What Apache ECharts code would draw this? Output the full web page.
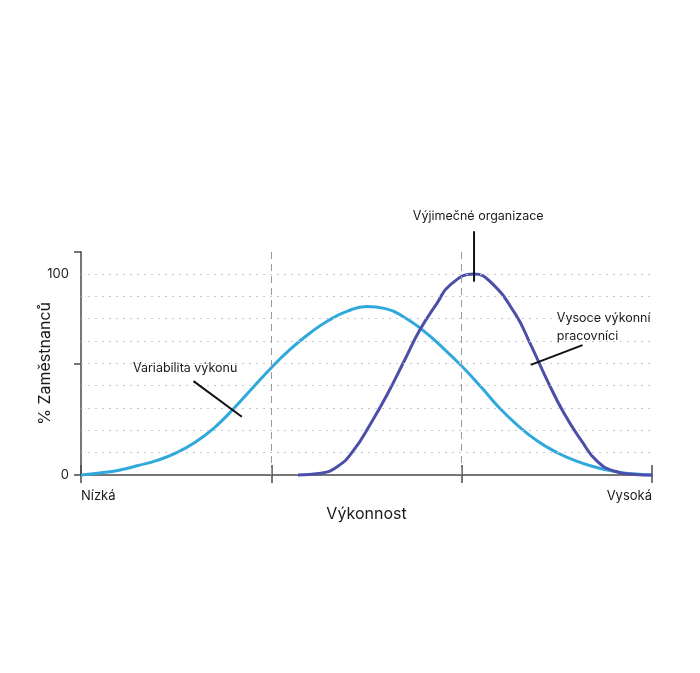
<!DOCTYPE html>
<html>
<head>
<meta charset="utf-8">
<script src="https://cdn.jsdelivr.net/npm/echarts@6/dist/echarts.min.js"></script>
<style>
html,body{margin:0;padding:0;background:#fff;}
#chart{width:700px;height:673px;}
</style>
</head>
<body>
<div id="chart"></div>
<script>
// Performance axis positions (0 = Nízká, 3 = Vysoká)
var perfX = [0,0.1,0.2,0.3,0.4,0.5,0.6,0.7,0.8,0.9,1.0,1.1,1.2,1.3,1.4,1.5,1.6,1.7,1.8,1.9,2.0,2.1,2.2,2.3,2.4,2.5,2.6,2.7,2.8,2.9,3.0];
// "Variabilita výkonu" (% Zaměstnanců)
var variabilityY = [0,1.0,2.4,4.7,7.3,11.0,16.3,23.5,32.8,43.2,53.4,62.6,70.4,76.9,81.5,83.8,82.8,78.4,71.7,63.4,54.2,44.0,33.2,24.2,16.8,11.2,7.0,4.0,1.8,0.6,0];
// "Vysoce výkonní pracovníci"
var highPerfX = [1.14,1.26,1.35,1.43,1.52,1.61,1.70,1.78,1.87,1.94,2.065,2.15,2.28,2.36,2.45,2.54,2.63,2.71,2.80,2.91,3.0];
var highPerfY = [0,0.9,4.4,12.0,25.3,40.3,57.1,72.1,85.4,94.6,100,96.2,80.4,65.4,47.0,30.3,17.0,7.0,2.0,0.3,0];

var yMax = 1000/9;                 // axis ends one grid step above 100
var hGridValues = [100/9,200/9,300/9,400/9,500/9,600/9,700/9,800/9,100];
var vGridValues = [1,2];
var xLabelValues = [0,3];
var xLabelTexts = {0:'Nízká',3:'Vysoká'};
var yLabelValues = [0,100];
var yTickValues = [0,500/9,yMax];

// annotations: [x1,y1,x2,y2] leader lines and text anchors in data units
var annotLines = [
  [0.591,46.7,0.845,29.0],
  [2.065,121.3,2.065,96.2],
  [2.635,64.6,2.363,54.8]
];
var annotTexts = [
  {text:'Variabilita výkonu', pos:[0.547,52.9], align:'center'},
  {text:'Výjimečné organizace', pos:[2.087,128.8], align:'center'},
  {text:'Vysoce výkonní\npracovníci', pos:[2.5,73.3], align:'left'}
];

function pairs(xs, ys){ return xs.map(function(x,i){return [x, ys[i]];}); }

var FONT = 'Inter, "Noto Sans", sans-serif';
var chart = echarts.init(document.getElementById('chart'));
var axisColor = '#4a4a4a';

chart.setOption({
  animation:false,
  backgroundColor:'#fff',
  grid:{left:81,right:48,top:251.7,bottom:198,containLabel:false},
  xAxis:[{
    type:'value', min:0, max:3, interval:1, position:'bottom',
    name:'Výkonnost', nameLocation:'middle', nameGap:31, nameMoveOverlap:false,
    nameTextStyle:{fontFamily:FONT,fontSize:16,color:'#1a1a1a'},
    axisLine:{show:true,onZero:false,lineStyle:{color:axisColor,width:1.5}},
    axisTick:{show:true,length:8,inside:false,lineStyle:{color:axisColor,width:1.5}},
    axisLabel:{show:true,customValues:xLabelValues,margin:15,fontFamily:FONT,fontSize:13,color:'#1a1a1a',
      formatter:function(v){return xLabelTexts[v]||'';}, alignMinLabel:'left', alignMaxLabel:'right'},
    splitLine:{show:false}
  },{
    type:'value', min:0, max:3, interval:1, position:'bottom', offset:0,
    axisLine:{show:false},
    axisTick:{show:true,length:10,inside:true,lineStyle:{color:axisColor,width:1.5}},
    axisLabel:{show:false},
    splitLine:{show:false}
  }],
  yAxis:{
    type:'value', min:0, max:yMax,
    name:'% Zaměstnanců', nameLocation:'middle', nameGap:28, nameMoveOverlap:false,
    nameTextStyle:{fontFamily:FONT,fontSize:16,color:'#1a1a1a'},
    axisLine:{show:true,lineStyle:{color:axisColor,width:1.5}},
    axisTick:{show:true,customValues:yTickValues,length:7,lineStyle:{color:axisColor,width:1.5}},
    axisLabel:{show:true,customValues:yLabelValues,margin:12,fontFamily:FONT,fontSize:13,color:'#1a1a1a'},
    splitLine:{show:false}
  },
  series:[{
    name:'Variabilita výkonu', type:'line', data:pairs(perfX, variabilityY),
    smooth:0.5, showSymbol:false, symbol:'none', clip:false, z:3,
    lineStyle:{color:'#2fa9dc',width:3},
    markLine:{
      silent:true, symbol:['none','none'], label:{show:false}, animation:false,
      data: hGridValues.map(function(v){return {yAxis:v, lineStyle:{color:'#c8c8c8',type:[2,5],width:1}};})
        .concat(vGridValues.map(function(v){return {xAxis:v, lineStyle:{color:'#9a9a9a',type:[7,5],width:1}};}))
    }
  },{
    name:'Vysoce výkonní pracovníci', type:'line', data:pairs(highPerfX, highPerfY),
    smooth:0.5, showSymbol:false, symbol:'none', clip:false, z:4,
    lineStyle:{color:'#4b4fa8',width:3}
  }]
});

var graphics = [];
annotLines.forEach(function(l){
  var p1 = chart.convertToPixel({gridIndex:0},[l[0],l[1]]);
  var p2 = chart.convertToPixel({gridIndex:0},[l[2],l[3]]);
  graphics.push({type:'line',z:10,silent:true,shape:{x1:p1[0],y1:p1[1],x2:p2[0],y2:p2[1]},style:{stroke:'#111',lineWidth:2}});
});
annotTexts.forEach(function(t){
  var p = chart.convertToPixel({gridIndex:0},t.pos);
  graphics.push({type:'text',z:10,silent:true,x:p[0],y:p[1],
    style:{text:t.text,fill:'#1a1a1a',font:'12.5px '+FONT,align:t.align,verticalAlign:'middle',lineHeight:18}});
});
chart.setOption({graphic:graphics});
</script>
</body>
</html>
